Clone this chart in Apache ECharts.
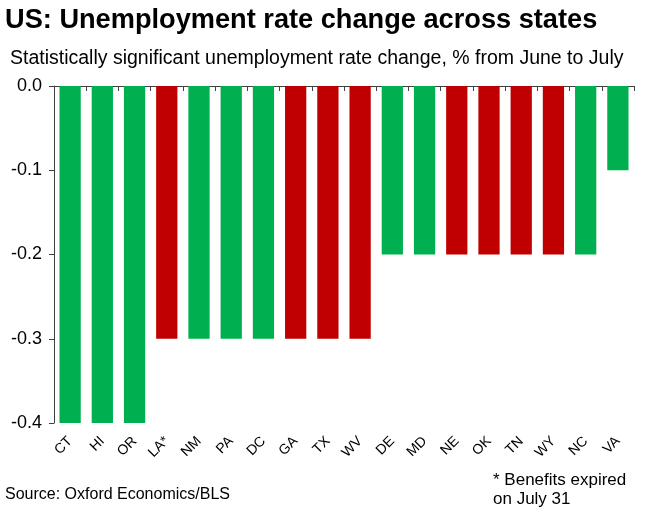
<!DOCTYPE html>
<html>
<head>
<meta charset="utf-8">
<script src="https://cdn.jsdelivr.net/npm/echarts@6/dist/echarts.min.js"></script>
<style>
  body { margin: 0; background: #fff; }
  #main { width: 645px; height: 510px; }
</style>
</head>
<body>
<div id="main"></div>
<script>
// state codes in chart order
const states = ['CT', 'HI', 'OR', 'LA*', 'NM', 'PA', 'DC', 'GA', 'TX', 'WV', 'DE', 'MD', 'NE', 'OK', 'TN', 'WY', 'NC', 'VA'];
const changes = [-0.4, -0.4, -0.4, -0.3, -0.3, -0.3, -0.3, -0.3, -0.3, -0.3, -0.2, -0.2, -0.2, -0.2, -0.2, -0.2, -0.2, -0.1];
// which bars are red (others green)
const redStates = ['LA*', 'GA', 'TX', 'WV', 'NE', 'OK', 'TN', 'WY'];

const green = '#00B050';
const red = '#C00000';
const font = 'Liberation Sans, Arial, sans-serif';

let chart = echarts.init(document.getElementById('main'));

let option = {
    animation: false,
    backgroundColor: '#fff',
    textStyle: { fontFamily: font, color: '#000' },
    title: [
        {
            text: 'US: Unemployment rate change across states',
            left: 0, top: 2,
            textStyle: { fontFamily: font, fontSize: 27.2, fontWeight: 'bold', color: '#000' }
        },
        {
            text: 'Statistically significant unemployment rate change, % from June to July',
            left: 5, top: 44,
            textStyle: { fontFamily: font, fontSize: 19.5, fontWeight: 'normal', color: '#000' }
        },
        {
            text: 'Source: Oxford Economics/BLS',
            left: 0, top: 482,
            textStyle: { fontFamily: font, fontSize: 16, fontWeight: 'normal', color: '#000' }
        },
        {
            text: '* Benefits expired\non July 31',
            left: 488, top: 466,
            textStyle: { fontFamily: font, fontSize: 17, fontWeight: 'normal', color: '#000', lineHeight: 19 }
        }
    ],
    grid: { left: 54, right: 11, top: 86, bottom: 87 },
    xAxis: [
        {
            type: 'category',
            data: states,
            position: 'top',
            axisLine: { show: true, lineStyle: { color: '#404040', width: 1 } },
            axisTick: { show: true, inside: true, length: 5, lineStyle: { color: '#404040' } },
            axisLabel: { show: false }
        },
        {
            type: 'category',
            data: states,
            position: 'bottom',
            axisLine: { show: false },
            axisTick: { show: false },
            axisLabel: { rotate: 45, margin: 16, fontSize: 14, fontFamily: font, color: '#000' }
        }
    ],
    yAxis: {
        type: 'value',
        min: -0.4,
        max: 0,
        interval: 0.1,
        axisLine: { show: true, lineStyle: { color: '#404040' } },
        axisTick: { show: true, length: 5, lineStyle: { color: '#404040' } },
        splitLine: { show: false },
        axisLabel: {
            fontSize: 18, fontFamily: font, color: '#000', margin: 12,
            formatter: v => v.toFixed(1)
        }
    },
    series: [{
        type: 'bar',
        xAxisIndex: 0,
        barCategoryGap: '34%',
        data: changes.map((v, i) => ({
            value: v,
            itemStyle: { color: redStates.includes(states[i]) ? red : green }
        }))
    }]
};
chart.setOption(option);
</script>
</body>
</html>
